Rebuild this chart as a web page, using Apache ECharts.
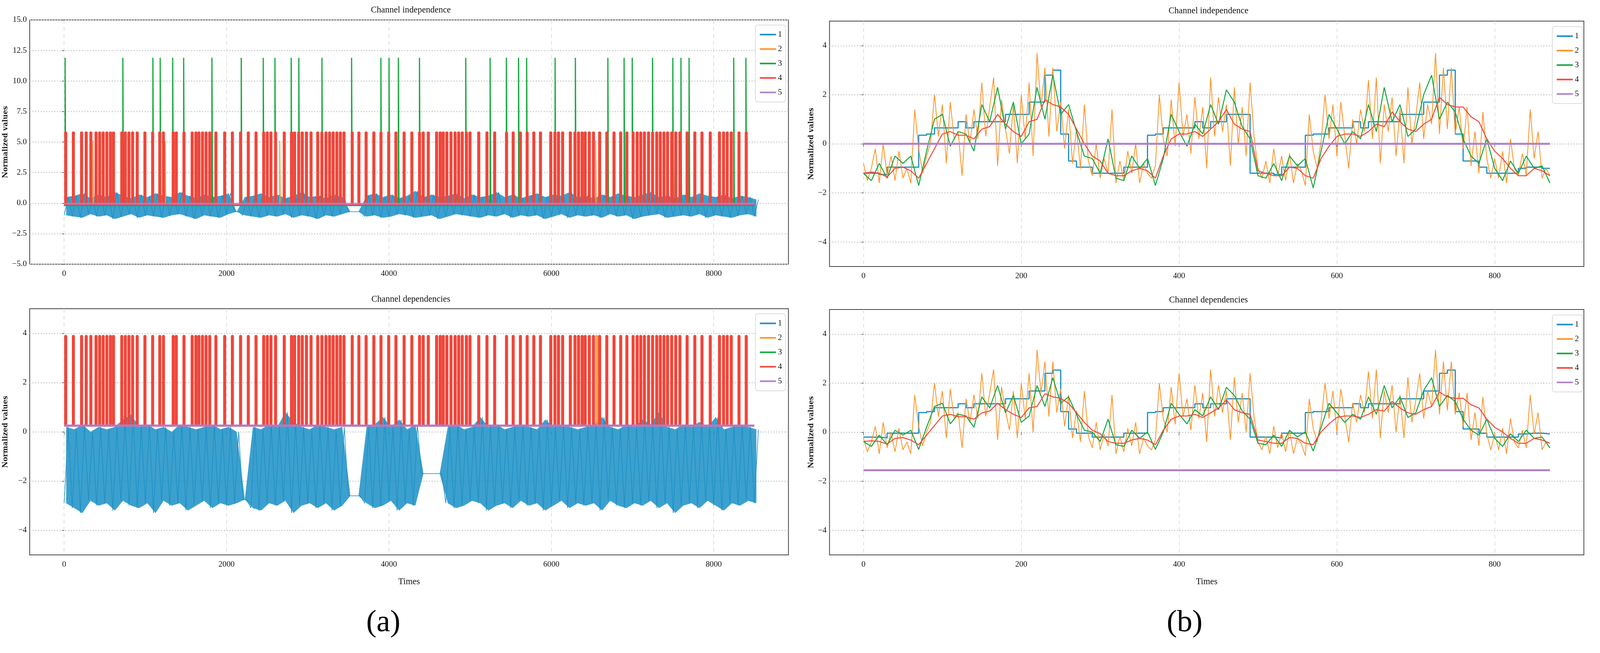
<!DOCTYPE html>
<html><head><meta charset="utf-8">
<script src="https://cdn.jsdelivr.net/npm/echarts@6/dist/echarts.min.js"></script>
<style>html,body{margin:0;padding:0;background:#fff;overflow:hidden}#c{width:100vw;height:100vh}</style>
</head><body><div id="c"></div>
<script>
// ---------- Panel (a): spike times (Times units) ----------
const redSpikeTimes=[19,114,215,272,329,393,437,481,526,570,608,710,754,798,843,900,995,1090,1178,1223,1343,1381,1476,1577,1622,1660,1704,1748,1793,1869,1977,2072,2173,2268,2363,2458,2502,2547,2604,2711,2800,2838,2889,2933,2984,3041,3123,3174,3224,3269,3313,3358,3402,3446,3548,3630,3719,3814,3902,3997,4086,4187,4282,4377,4422,4485,4587,4631,4669,4713,4764,4815,4859,4903,4954,4998,5106,5207,5302,5448,5530,5619,5702,5784,5866,5993,6044,6088,6139,6234,6291,6335,6379,6417,6468,6519,6595,6683,6772,6854,6930,7007,7057,7101,7146,7197,7247,7298,7342,7387,7431,7482,7532,7583,7672,7767,7855,7957,8071,8121,8166,8216,8311,8400];
const greenSpikeTimesA=[16,727,1097,1187,1341,1476,1824,2185,2456,2600,2800,2894,3179,3544,3905,4005,4120,4380,4950,5250,5450,5600,5700,6050,6300,6700,6900,7000,7250,7500,7600,7700,8250,8400];
const orangeSpikeTimesA=[359,1248,2659,6550];
const orangeSpikeTimesB=[6560];
const endTimeA=8500;
// blue channel envelope per 100-unit bin (low, high)
const blueLowA=[-1.0,-1.1,-1.2,-0.9,-1.1,-1.0,-1.3,-1.1,-0.9,-1.2,-1.0,-1.1,-1.2,-1.0,-0.9,-1.1,-1.3,-1.0,-1.1,-1.2,-0.9,-0.7,-1.0,-1.1,-1.2,-1.0,-1.1,-0.9,-1.2,-1.0,-1.1,-1.3,-1.0,-1.1,-0.9,-0.7,-0.7,-1.1,-1.0,-1.2,-1.1,-0.9,-1.0,-1.2,-1.1,-1.0,-1.3,-1.1,-0.9,-1.0,-1.1,-1.2,-1.0,-1.1,-0.9,-1.2,-1.0,-1.1,-1.0,-1.3,-1.1,-0.9,-1.2,-1.0,-1.1,-1.0,-1.2,-0.9,-1.1,-1.0,-1.3,-1.1,-1.0,-0.9,-1.2,-1.1,-1.0,-1.1,-0.9,-1.2,-1.0,-1.1,-1.2,-1.0,-0.9,-1.1];
const blueHighA=[0.5,0.6,0.8,0.4,0.7,0.5,0.9,0.6,0.4,0.7,0.5,0.8,0.6,0.5,0.9,0.6,0.4,0.7,0.5,0.6,0.8,-0.7,0.5,0.6,0.8,0.5,0.7,0.4,0.6,0.9,0.5,0.6,0.4,0.7,0.5,-0.7,-0.7,0.6,0.8,0.5,0.7,0.4,0.6,1.0,0.5,0.7,0.5,0.6,0.8,0.4,0.7,0.5,0.6,0.9,0.5,0.7,0.4,0.6,0.8,0.5,0.7,0.6,0.9,0.5,0.6,0.4,0.7,0.5,0.8,0.6,0.5,0.7,0.9,0.5,0.6,0.4,0.7,0.5,0.8,0.6,0.5,0.7,0.4,0.6,0.5,0.3];
const blueLowB=[-2.9,-3.1,-3.3,-2.8,-3.0,-2.9,-3.2,-2.8,-3.0,-3.1,-2.9,-3.3,-2.8,-3.0,-2.9,-3.2,-3.0,-2.8,-3.1,-2.9,-3.0,-2.9,-2.75,-3.1,-3.2,-2.9,-3.0,-2.8,-3.3,-3.0,-2.9,-3.1,-2.9,-3.2,-3.0,-2.6,-2.6,-2.9,-3.1,-3.0,-2.8,-3.2,-2.9,-3.0,-1.7,-1.7,-1.7,-2.9,-3.1,-3.0,-2.8,-2.9,-3.2,-3.0,-2.9,-3.1,-2.8,-3.0,-2.9,-3.2,-3.0,-2.8,-3.1,-2.9,-3.0,-2.9,-3.2,-2.8,-3.0,-3.1,-2.9,-3.0,-2.8,-3.1,-2.9,-3.3,-3.0,-2.9,-3.1,-2.8,-3.0,-3.2,-2.9,-3.0,-2.8,-2.9];
const blueHighB=[0.2,0.1,0.3,0.0,0.2,0.1,0.2,0.5,0.7,0.2,0.3,0.1,0.2,0.0,0.3,0.2,0.1,0.2,0.3,0.1,0.2,0.0,-2.75,0.2,0.1,0.3,0.2,0.8,0.4,0.2,0.1,0.3,0.2,0.1,0.2,-2.6,-2.6,0.2,0.3,0.6,0.2,0.5,0.1,0.3,-1.7,-1.7,-1.7,0.2,0.3,0.1,0.2,0.6,0.2,0.3,0.1,0.2,0.3,0.2,0.1,0.5,0.2,0.3,0.2,0.1,0.2,0.3,0.6,0.2,0.1,0.3,0.2,0.5,0.3,0.8,0.2,0.1,0.3,0.2,0.4,0.2,0.6,0.1,0.2,0.3,0.2,0.1];
const levelsA={redBase:-0.15,redTop:5.8,greenBase:-0.2,greenTop:11.9,orangeBase:-0.2,orangeTop:5.1,purple:-0.05};
const levelsB={redBase:0.25,redTop:3.9,greenBase:0.25,orangeBase:0.25,orangeTop:3.9,purple:0.25};

// ---------- Panel (b): channel values, sampled every 10 (orange every 5) ----------
const blueI=[-1.2,-1.2,-1.2,-1.25,-0.95,-0.95,-0.95,-0.95,0.35,0.4,0.65,0.65,0.65,0.9,0.65,0.9,0.9,0.9,0.9,1.2,1.2,1.2,1.7,1.7,2.8,3.0,0.4,-0.7,-0.95,-0.95,-1.2,-1.2,-1.2,-1.2,-0.95,-0.95,-0.95,0.35,0.4,0.65,0.65,0.65,0.65,0.9,0.65,0.9,0.9,1.2,1.2,1.2,-1.2,-1.2,-1.2,-1.25,-0.95,-0.95,-0.95,0.35,0.4,0.4,0.65,0.65,0.65,0.9,0.65,0.9,0.9,0.9,0.9,1.2,1.2,1.2,1.7,1.7,2.8,3.0,0.4,-0.7,-0.7,-0.95,-1.2,-1.2,-1.2,-1.2,-1.0,-0.95,-0.95,-1.0];
const redI=[-1.2,-1.15,-1.2,-1.35,-1.0,-0.95,-1.1,-1.4,-0.8,-0.2,0.4,0.5,0.35,0.35,0.2,0.6,0.7,1.2,0.8,0.5,0.3,0.9,1.0,1.8,1.6,1.5,1.2,0.6,0.0,-0.5,-0.7,-1.2,-1.3,-1.3,-1.1,-1.0,-1.1,-1.4,-0.5,0.2,0.4,0.4,0.5,0.3,0.6,0.9,1.4,0.8,0.6,0.5,-1.1,-1.2,-1.3,-1.3,-0.95,-1.0,-1.3,-1.4,-0.6,-0.1,0.3,0.4,0.4,0.3,0.5,0.8,0.7,1.3,0.9,0.6,0.5,0.8,1.0,1.9,1.6,1.5,1.5,1.1,0.9,0.2,-0.3,-0.6,-1.0,-1.3,-1.3,-1.0,-1.1,-1.3];
const greenI=[-1.2,-1.5,-0.8,-1.4,-0.5,-0.8,-0.5,-1.7,-0.3,1.0,1.2,-0.1,0.5,0.4,-0.3,1.6,0.9,2.3,0.6,1.7,0.0,0.4,2.3,1.0,2.8,1.2,1.6,0.5,-0.5,-0.6,-1.2,0.2,-1.4,-1.5,-0.5,-1.0,-0.6,-1.7,-0.6,1.2,0.5,-0.1,0.8,0.4,1.6,0.8,2.2,1.7,0.7,0.2,-1.3,-1.4,-0.8,-1.5,-0.5,-0.9,-0.6,-1.8,-0.3,1.2,0.6,0.0,0.5,0.2,1.6,0.5,2.3,0.9,1.6,0.3,0.6,2.0,2.8,1.0,1.7,1.3,0.2,-0.5,-0.8,0.2,-1.0,-1.5,-0.7,-1.2,-0.5,-1.0,-0.9,-1.6];
const orangeI=[-0.8,-1.5,-1.0,-0.2,-1.6,0.0,-1.3,-0.5,-1.5,-0.3,-1.4,-1.0,-1.6,1.4,-0.2,-1.2,-0.5,0.0,2.0,0.3,1.6,-0.8,1.7,0.2,0.5,-1.3,1.2,0.0,1.4,0.2,2.5,0.3,1.5,2.7,-0.9,1.8,0.6,-0.4,1.6,-0.8,2.0,0.2,2.5,-0.5,3.7,1.5,3.1,0.3,3.1,0.5,1.7,-0.2,1.4,-0.8,0.6,-1.0,1.6,-0.7,-1.3,0.0,-1.4,-0.6,-1.2,1.4,-1.6,-0.7,-1.5,-0.3,-1.2,0.0,-1.6,-0.8,-1.2,-1.4,-0.9,2.0,0.2,-0.5,1.8,-0.1,2.5,0.3,1.2,-0.4,1.9,0.2,1.5,-1.0,2.7,0.3,1.9,0.5,1.6,-0.9,2.3,0.0,1.5,-0.5,2.5,0.3,-1.0,-1.4,-0.7,-1.6,-0.2,-1.3,-0.5,-1.5,-0.4,-1.6,-0.8,-1.1,-1.7,1.2,-0.3,-1.0,0.1,2.0,0.2,1.6,-0.5,1.7,0.3,-1.0,1.0,0.0,1.4,0.5,2.6,0.2,2.7,-0.8,1.6,0.5,1.9,-0.5,1.4,-0.8,2.3,0.0,1.1,2.5,0.2,1.6,0.8,3.7,0.4,3.1,0.6,3.1,0.4,1.5,-0.2,1.5,-0.9,0.5,-1.2,1.3,-0.6,-1.4,-0.6,-1.4,-0.3,-1.6,0.2,-1.0,-1.3,-0.4,-1.3,1.4,-0.6,0.5,-1.4,-1.0,-1.3];
const purpleI=0;
const blueD=[-0.2,-0.2,-0.2,-0.23,-0.04,-0.04,-0.04,-0.04,0.8,0.84,1.0,1.0,1.0,1.16,1.0,1.16,1.16,1.16,1.16,1.36,1.36,1.36,1.68,1.68,2.4,2.53,0.84,0.13,-0.04,-0.04,-0.2,-0.2,-0.2,-0.2,-0.04,-0.04,-0.04,0.8,0.84,1.0,1.0,1.0,1.0,1.16,1.0,1.16,1.16,1.36,1.36,1.36,-0.2,-0.2,-0.2,-0.23,-0.04,-0.04,-0.04,0.8,0.84,0.84,1.0,1.0,1.0,1.16,1.0,1.16,1.16,1.16,1.16,1.36,1.36,1.36,1.68,1.68,2.4,2.53,0.84,0.13,0.13,-0.04,-0.2,-0.2,-0.2,-0.2,-0.07,-0.04,-0.04,-0.07];
const redD=[-0.38,-0.35,-0.38,-0.48,-0.25,-0.22,-0.32,-0.51,-0.12,0.27,0.66,0.73,0.63,0.63,0.53,0.79,0.86,1.18,0.92,0.73,0.6,0.99,1.05,1.57,1.44,1.38,1.18,0.79,0.4,0.08,-0.06,-0.38,-0.45,-0.45,-0.32,-0.25,-0.32,-0.51,0.08,0.53,0.66,0.66,0.73,0.6,0.79,0.99,1.31,0.92,0.79,0.73,-0.32,-0.38,-0.45,-0.45,-0.22,-0.25,-0.45,-0.51,0.01,0.34,0.6,0.66,0.66,0.6,0.73,0.92,0.86,1.25,0.99,0.79,0.73,0.92,1.05,1.64,1.44,1.38,1.38,1.12,0.99,0.53,0.2,0.01,-0.25,-0.45,-0.45,-0.25,-0.32,-0.45];
const greenD=[-0.38,-0.58,-0.12,-0.51,0.08,-0.12,0.08,-0.7,0.2,1.05,1.18,0.34,0.73,0.66,0.2,1.44,0.99,1.9,0.79,1.5,0.4,0.66,1.9,1.05,2.22,1.18,1.44,0.73,0.08,0.01,-0.38,0.53,-0.51,-0.58,0.08,-0.25,0.01,-0.7,0.01,1.18,0.73,0.34,0.92,0.66,1.44,0.92,1.83,1.5,0.86,0.53,-0.45,-0.51,-0.12,-0.58,0.08,-0.19,0.01,-0.77,0.2,1.18,0.79,0.4,0.73,0.53,1.44,0.73,1.9,0.99,1.44,0.6,0.79,1.7,2.22,1.05,1.5,1.25,0.53,0.08,-0.12,0.53,-0.25,-0.58,-0.06,-0.38,0.08,-0.25,-0.19,-0.64];
const orangeD=[-0.24,-0.8,-0.4,0.24,-0.88,0.4,-0.64,0.0,-0.8,0.16,-0.72,-0.4,-0.88,1.52,0.24,-0.56,0.0,0.4,2.0,0.64,1.68,-0.24,1.76,0.56,0.8,-0.64,1.36,0.4,1.52,0.56,2.4,0.64,1.6,2.56,-0.32,1.84,0.88,0.08,1.68,-0.24,2.0,0.56,2.4,0.0,3.36,1.6,2.88,0.64,2.88,0.8,1.76,0.24,1.52,-0.24,0.88,-0.4,1.68,-0.16,-0.64,0.4,-0.72,-0.08,-0.56,1.52,-0.88,-0.16,-0.8,0.16,-0.56,0.4,-0.88,-0.24,-0.56,-0.72,-0.32,2.0,0.56,0.0,1.84,0.32,2.4,0.64,1.36,0.08,1.92,0.56,1.6,-0.4,2.56,0.64,1.92,0.8,1.68,-0.32,2.24,0.4,1.6,0.0,2.4,0.64,-0.4,-0.72,-0.16,-0.88,0.24,-0.64,0.0,-0.8,0.08,-0.88,-0.24,-0.48,-0.96,1.36,0.16,-0.4,0.48,2.0,0.56,1.68,0.0,1.76,0.64,-0.4,1.2,0.4,1.52,0.8,2.48,0.56,2.56,-0.24,1.68,0.8,1.92,0.0,1.52,-0.24,2.24,0.4,1.28,2.4,0.56,1.68,1.04,3.36,0.72,2.88,0.88,2.88,0.72,1.6,0.24,1.6,-0.32,0.8,-0.56,1.44,-0.08,-0.72,-0.08,-0.72,0.16,-0.88,0.56,-0.4,-0.64,0.08,-0.64,1.52,-0.08,0.8,-0.72,-0.4,-0.64];
const purpleD=-1.55;
const endTimeB=870;

const legendNames=['1','2','3','4','5'];
const xTicksA=[0,2000,4000,6000,8000];
const xTicksB=[0,200,400,600,800];
const yTicksTopA=[-5,-2.5,0,2.5,5,7.5,10,12.5,15];
const yTicksOther=[-4,-2,0,2,4];

const C={b:'#1a8fc6',o:'#ff9124',g:'#12a83c',r:'#f0463a',p:'#b07fd0'};
const FONT='Liberation Serif';

const W=window.innerWidth||4363, H=window.innerHeight||1671;
const sx=W/4363, sy=H/1671, sf=Math.min(sx,sy);
const X=v=>v*sx, Y=v=>v*sy, F=v=>v*sf;

function spikes(times,base,top,half,end){
  const d=[[0,base]];
  times.slice().sort((a,b)=>a-b).forEach(t=>{d.push([t-half,base],[t-half,top],[t+half,top],[t+half,base]);});
  d.push([end,base]);return d;
}
function zig(lo,hi){const d=[];for(let i=0;i<lo.length;i++){d.push([i*100,lo[i]],[i*100+50,hi[i]]);}return d;}
function bandPoly(lo,hi){const d=[];hi.forEach((v,i)=>d.push([i*100+25,v]));for(let i=lo.length-1;i>=0;i--)d.push([i*100+25,lo[i]]);d.push([25,hi[0]]);return d;}
function seq(arr,step){return arr.map((v,i)=>[i*step,v]);}
function flat(v,end){return [[0,v],[end,v]];}

const grids=[
 {left:X(81),top:Y(51),width:X(2069),height:Y(625)},
 {left:X(81),top:Y(790),width:X(2069),height:Y(630)},
 {left:X(2262),top:Y(54),width:X(2057),height:Y(628)},
 {left:X(2262),top:Y(792),width:X(2057),height:Y(628)}
].map(g=>Object.assign(g,{show:true,borderColor:'#444',borderWidth:2,backgroundColor:'#fff',containLabel:false}));

function xAx(i,min,max,ticks,name){
  return {type:'value',gridIndex:i,min:min,max:max,
    name:name||'',nameLocation:'middle',nameGap:Y(58),nameTextStyle:{fontFamily:FONT,fontSize:F(24),color:'#111'},
    axisLine:{show:false},
    axisTick:{show:true,length:Y(8),customValues:ticks,lineStyle:{color:'#222'}},
    axisLabel:{customValues:ticks,fontFamily:FONT,fontSize:F(22),color:'#111',margin:Y(14),formatter:v=>String(v)},
    splitLine:{show:true,lineStyle:{color:'#d6d6d6',type:[10,8],width:1.5}}};
}
function yAx(i,min,max,ticks,fmt,gap){
  return {type:'value',gridIndex:i,min:min,max:max,
    name:'Normalized values',nameLocation:'middle',nameGap:X(gap),
    nameTextStyle:{fontFamily:'DejaVu Serif',fontWeight:'bold',fontSize:F(19),color:'#222'},
    axisLine:{show:false},
    axisTick:{show:true,length:X(6),customValues:ticks,lineStyle:{color:'#222'}},
    axisLabel:{customValues:ticks,fontFamily:FONT,fontSize:F(22),color:'#111',margin:X(8),formatter:fmt},
    splitLine:{show:true,lineStyle:{color:'#c8c8c8',type:[3,4],width:2.5}}};
}
const f1=v=>v.toFixed(1).replace('-','\u2212'), f0=v=>String(v).replace('-','\u2212');

function line(name,data,g,color,w,extra){
  return Object.assign({name:name,type:'line',xAxisIndex:g,yAxisIndex:g,data:data,showSymbol:false,symbol:'none',
    animation:false,silent:true,lineStyle:{color:color,width:w},itemStyle:{color:color},z:2},extra||{});
}
function band(name,lo,hi,g){
  return {name:name,type:'custom',xAxisIndex:g,yAxisIndex:g,silent:true,animation:false,z:1,
    data:[0],itemStyle:{color:C.b},
    renderItem:function(params,api){
      const pts=bandPoly(lo,hi).map(p=>api.coord(p));
      return {type:'polygon',shape:{points:pts},style:{fill:C.b,opacity:0.85}};
    }};
}
const series=[
 band('1',blueLowA,blueHighA,0),
 line('1',zig(blueLowA,blueHighA),0,C.b,1.5),
 line('2',spikes(orangeSpikeTimesA,levelsA.orangeBase,levelsA.orangeTop,4,endTimeA),0,C.o,2),
 line('3',spikes(greenSpikeTimesA,levelsA.greenBase,levelsA.greenTop,4,endTimeA),0,C.g,3),
 line('4',spikes(redSpikeTimes,levelsA.redBase,levelsA.redTop,9,endTimeA),0,C.r,4),
 line('5',flat(levelsA.purple,endTimeA),0,C.p,5,{lineStyle:{color:C.p,width:5,opacity:0.8}}),
 band('1',blueLowB,blueHighB,1),
 line('1',zig(blueLowB,blueHighB),1,C.b,1.5),
 line('2',spikes(orangeSpikeTimesB,levelsB.orangeBase,levelsB.orangeTop,9,endTimeA),1,C.o,3),
 line('3',flat(levelsB.greenBase,endTimeA),1,C.g,3),
 line('4',spikes(redSpikeTimes,levelsB.redBase,levelsB.redTop,9,endTimeA),1,C.r,4),
 line('5',flat(levelsB.purple,endTimeA),1,C.p,6,{lineStyle:{color:C.p,width:6,opacity:0.85}}),
 line('1',seq(blueI,10),2,C.b,3,{step:'start'}),
 line('2',seq(orangeI,5),2,C.o,2),
 line('3',seq(greenI,10),2,C.g,2.5),
 line('4',seq(redI,10),2,C.r,2.5),
 line('5',flat(purpleI,endTimeB),2,C.p,5),
 line('1',seq(blueD,10),3,C.b,3,{step:'start'}),
 line('2',seq(orangeD,5),3,C.o,2),
 line('3',seq(greenD,10),3,C.g,2.5),
 line('4',seq(redD,10),3,C.r,2.5),
 line('5',flat(purpleD,endTimeB),3,C.p,5)
];

function legend(left,top){
  return {show:true,orient:'vertical',left:X(left),top:Y(top),data:legendNames,itemWidth:X(44),itemHeight:Y(4),itemGap:Y(16),
    icon:'rect',backgroundColor:'rgba(255,255,255,0.9)',borderColor:'#ddd',borderWidth:2,borderRadius:6,
    padding:[Y(14),X(10),Y(14),X(12)],selectedMode:false,textStyle:{fontFamily:FONT,fontSize:F(22),color:'#111'}};
}
const titleStyle={fontFamily:FONT,fontSize:F(24),fontWeight:'normal',color:'#111'};
const big={fontFamily:FONT,fontSize:F(84),fontWeight:'normal',color:'#000'};
const option={
  backgroundColor:'#fff',animation:false,
  title:[
    {text:'Channel independence',left:X(1115),top:Y(10),textAlign:'center',textStyle:titleStyle},
    {text:'Channel dependencies',left:X(1115),top:Y(750),textAlign:'center',textStyle:titleStyle},
    {text:'Channel independence',left:X(3290),top:Y(12),textAlign:'center',textStyle:titleStyle},
    {text:'Channel dependencies',left:X(3290),top:Y(752),textAlign:'center',textStyle:titleStyle},
    {text:'(a)',left:X(1040),top:Y(1550),textAlign:'center',textStyle:big},
    {text:'(b)',left:X(3225),top:Y(1550),textAlign:'center',textStyle:big}
  ],
  grid:grids,
  xAxis:[xAx(0,-424,8920,xTicksA),xAx(1,-424,8920,xTicksA,'Times'),xAx(2,-43,913,xTicksB),xAx(3,-43,913,xTicksB,'Times')],
  yAxis:[yAx(0,-5,15,yTicksTopA,f1,56),yAx(1,-5,5,yTicksOther,f0,56),yAx(2,-5,5,yTicksOther,f0,40),yAx(3,-5,5,yTicksOther,f0,40)],
  legend:[legend(2060,64),legend(2060,803),legend(4233,68),legend(4233,806)],
  series:series
};
const ch=echarts.init(document.getElementById('c'),null,{renderer:'canvas',width:W,height:H});
ch.setOption(option);
</script></body></html>
